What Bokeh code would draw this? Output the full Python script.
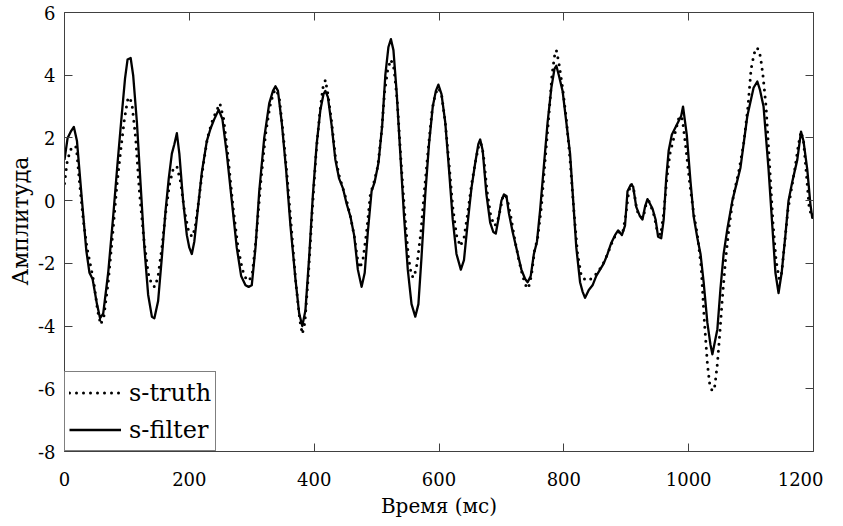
from bokeh.plotting import figure
from bokeh.models import LinearAxis, Range1d, Legend, LegendItem, FixedTicker, CustomJSTickFormatter, Title
from bokeh.embed import file_html
from bokeh.resources import INLINE

# ---- data ----
filter_x = [0, 5, 10, 15, 20, 28, 35, 40, 45, 52, 57, 62, 70, 78, 85, 92, 97, 101, 106, 110,
            116, 122, 128, 134, 140, 144, 150, 156, 162, 167, 172, 176, 180, 184, 190, 196, 200, 204, 208, 214,
            220, 228, 234, 240, 247, 253, 260, 268, 276, 283, 290, 295, 300, 306, 312, 320, 328, 334, 338, 342,
            348, 355, 362, 370, 376, 381, 386, 392, 398, 404, 410, 415, 418, 422, 428, 434, 440, 446, 452, 458,
            464, 470, 476, 481, 486, 492, 497, 503, 509, 514, 519, 523, 527, 532, 538, 544, 550, 556, 562, 567,
            572, 578, 584, 590, 595, 599, 604, 610, 616, 622, 628, 635, 640, 646, 652, 658, 663, 666, 670, 676,
            682, 687, 691, 696, 700, 704, 708, 712, 718, 725, 732, 738, 742, 747, 752, 757, 762, 768, 774, 780,
            785, 788, 792, 798, 804, 810, 815, 820, 826, 830, 834, 840, 846, 852, 858, 864, 870, 876, 882, 887,
            893, 898, 902, 907, 911, 916, 922, 926, 930, 934, 938, 942, 947, 951, 956, 960, 964, 968, 973, 978,
            983, 988, 991, 997, 1003, 1008, 1014, 1019, 1024, 1030, 1035, 1038, 1042, 1046, 1051, 1056, 1062, 1070, 1083, 1094,
            1104, 1110, 1114, 1120, 1128, 1134, 1139, 1144, 1149, 1155, 1160, 1166, 1174, 1180, 1184, 1190, 1195, 1198, 1200]
filter_y = [1.3, 2.0, 2.2, 2.35, 1.9, 0.0, -1.6, -2.3, -2.5, -3.3, -3.75, -3.6, -2.3, -0.5, 1.2, 2.8, 3.9, 4.5, 4.55, 4.0,
            2.5, 0.5, -1.5, -3.0, -3.7, -3.75, -3.2, -1.8, -0.3, 0.7, 1.5, 1.8, 2.15, 1.5, 0.0, -1.1, -1.5, -1.7, -1.3, -0.2,
            0.9, 1.9, 2.3, 2.6, 2.9, 2.6, 1.5, 0.0, -1.5, -2.4, -2.7, -2.75, -2.7, -1.5, 0.3, 2.0, 3.1, 3.5, 3.65, 3.5,
            2.5, 1.0, -0.8, -2.5, -3.6, -4.0, -3.5, -1.8, 0.2, 1.8, 2.9, 3.4, 3.5, 3.3, 2.4, 1.3, 0.7, 0.4, -0.1, -0.5,
            -1.1, -2.2, -2.75, -2.3, -1.0, 0.3, 0.6, 1.2, 2.4, 4.0, 4.9, 5.15, 4.8, 3.5, 1.5, -0.5, -2.2, -3.3, -3.7, -3.3,
            -1.8, 0.2, 1.8, 3.0, 3.5, 3.7, 3.4, 2.5, 1.0, -0.6, -1.7, -2.2, -1.9, -0.7, 0.4, 1.2, 1.8, 1.95, 1.6, 0.2,
            -0.7, -1.0, -1.05, -0.5, 0.0, 0.2, 0.15, -0.4, -1.0, -1.6, -2.2, -2.5, -2.6, -2.4, -1.7, -1.3, -0.3, 1.1, 2.5, 3.6,
            4.2, 4.3, 4.0, 3.5, 2.5, 1.5, 0.0, -1.5, -2.6, -2.9, -3.1, -2.85, -2.7, -2.4, -2.2, -2.0, -1.7, -1.35, -1.1, -0.95,
            -1.1, -0.8, 0.3, 0.5, 0.45, -0.2, -0.5, -0.6, -0.2, 0.05, -0.1, -0.25, -0.6, -1.15, -1.2, -0.6, 0.7, 1.6, 2.1, 2.3,
            2.5, 2.7, 3.0, 2.1, 0.6, -0.5, -1.2, -1.7, -2.6, -3.9, -4.6, -4.9, -4.5, -4.1, -2.8, -1.7, -0.9, 0.0, 1.05, 2.7,
            3.6, 3.8, 3.55, 3.0, 1.0, -0.8, -2.3, -2.95, -2.3, -1.1, 0.0, 0.6, 1.3, 2.2, 1.9, 1.0, -0.1, -0.55, -0.4]

truth_x = [0, 4, 9, 14, 19, 24, 30, 36, 42, 47, 53, 58, 63, 70, 77, 84, 90, 96, 101, 104,
           108, 114, 120, 127, 134, 140, 145, 150, 156, 162, 168, 174, 180, 186, 192, 198, 204, 209, 215, 222,
           229, 236, 242, 249, 255, 262, 270, 278, 285, 291, 296, 301, 307, 314, 322, 329, 335, 339, 344, 350,
           357, 364, 371, 377, 381, 385, 391, 397, 403, 409, 414, 418, 422, 428, 434, 440, 446, 452, 458, 464,
           469, 473, 478, 484, 490, 496, 502, 508, 513, 518, 523, 528, 533, 539, 545, 551, 556, 560, 565, 571,
           577, 583, 589, 594, 599, 604, 610, 616, 622, 628, 634, 640, 646, 652, 658, 663, 667, 671, 677, 683,
           689, 693, 698, 702, 706, 710, 715, 721, 728, 734, 739, 743, 748, 753, 758, 764, 770, 776, 781, 785,
           788, 792, 798, 804, 810, 816, 822, 828, 833, 838, 843, 848, 854, 860, 866, 872, 878, 884, 889, 894,
           899, 904, 908, 912, 917, 922, 927, 932, 936, 940, 945, 950, 955, 960, 965, 970, 975, 980, 985, 990,
           996, 1002, 1008, 1014, 1020, 1025, 1030, 1034, 1038, 1042, 1046, 1050, 1054, 1059, 1065, 1072, 1080, 1088, 1095, 1100,
           1105, 1110, 1115, 1119, 1124, 1130, 1135, 1140, 1145, 1149, 1154, 1159, 1164, 1170, 1176, 1180, 1184, 1188, 1193, 1197, 1200]
truth_y = [0.55, 1.2, 1.6, 1.75, 1.7, 0.6, -0.6, -1.5, -2.1, -2.6, -3.5, -3.95, -3.7, -2.6, -1.1, 0.5, 1.6, 2.6, 3.2, 3.3,
           3.1, 2.0, 0.3, -1.2, -2.3, -2.7, -2.75, -2.4, -1.5, -0.4, 0.5, 1.0, 1.1, 0.6, -0.3, -0.9, -1.15, -0.9, 0.0, 1.1,
           2.0, 2.5, 2.8, 3.1, 2.6, 1.4, -0.2, -1.5, -2.2, -2.5, -2.55, -2.3, -1.2, 0.5, 2.1, 3.0, 3.45, 3.55, 3.3, 2.2,
           0.7, -1.0, -2.7, -3.8, -4.25, -3.9, -2.3, -0.3, 1.5, 2.8, 3.6, 3.85, 3.4, 2.5, 1.4, 0.8, 0.4, 0.0, -0.5, -1.1,
           -1.8, -2.15, -1.9, -1.0, 0.2, 0.6, 1.1, 2.2, 3.5, 4.2, 4.5, 4.2, 3.2, 1.3, -0.4, -1.8, -2.4, -2.45, -2.0, -1.0,
           0.4, 1.7, 2.9, 3.4, 3.6, 3.4, 2.5, 1.2, -0.2, -1.1, -1.45, -1.2, -0.4, 0.5, 1.2, 1.7, 1.85, 1.5, 0.3, -0.5,
           -0.8, -0.7, -0.3, 0.1, 0.2, 0.0, -0.5, -1.2, -1.9, -2.4, -2.7, -2.8, -2.4, -1.6, -1.2, -0.2, 1.3, 2.7, 4.0, 4.6,
           4.8, 4.4, 3.6, 2.6, 1.3, -0.3, -1.7, -2.4, -2.5, -2.45, -2.5, -2.4, -2.3, -2.1, -1.9, -1.6, -1.3, -1.05, -1.0, -1.05,
           -0.5, 0.3, 0.55, 0.35, -0.3, -0.5, -0.55, -0.1, 0.0, -0.2, -0.5, -1.0, -1.1, -0.4, 0.7, 1.5, 1.9, 2.3, 2.7, 2.6,
           1.6, 0.5, -0.4, -1.1, -2.1, -3.8, -5.2, -5.9, -6.07, -5.9, -5.2, -4.2, -3.1, -1.9, -0.8, 0.2, 0.9, 1.8, 3.0, 4.2,
           4.7, 4.88, 4.6, 4.0, 3.0, 1.0, -0.7, -1.9, -2.5, -2.3, -1.3, -0.3, 0.3, 1.0, 1.8, 2.2, 1.9, 1.0, -0.2, -0.5, -0.45]

x_ticks = [0, 200, 400, 600, 800, 1000, 1200]
y_ticks = [-8, -6, -4, -2, 0, 2, 4, 6]
x_label = "Время (мс)"
y_label = "Амплитуда"
legend_labels = ["s-truth", "s-filter"]

FONT = "DejaVu Serif"
AXC = "#404040"

p = figure(frame_width=749, frame_height=439,
           x_range=Range1d(0, 1200), y_range=Range1d(-8, 6),
           output_backend="svg", toolbar_location=None,
           min_border_left=64, min_border_right=10, min_border_top=12, min_border_bottom=62)
p.xgrid.visible = False
p.ygrid.visible = False
p.outline_line_color = None
p.background_fill_color = "white"
p.border_fill_color = "white"

r_truth = p.line(truth_x, truth_y, line_color="black", line_width=3,
                 line_dash="0 7", line_cap="round")
r_filter = p.line(filter_x, filter_y, line_color="black", line_width=2.3, line_join="round")

def style_axis(ax, labels=True):
    ax.axis_line_color = AXC
    ax.axis_line_width = 1
    ax.major_tick_line_color = AXC
    ax.major_tick_in = 8
    ax.major_tick_out = 0
    ax.minor_tick_line_color = None
    ax.major_label_text_font = FONT
    ax.major_label_text_color = "black"
    ax.major_label_text_font_size = "18px"
    ax.axis_label_text_font = FONT
    ax.axis_label_text_font_style = "normal"
    ax.axis_label_text_color = "black"
    if labels:
        ax.formatter = CustomJSTickFormatter(code="return tick.toString();")
    else:
        ax.formatter = CustomJSTickFormatter(code="return '';")
        ax.major_label_standoff = 0

xa = p.xaxis[0]
ya = p.yaxis[0]
xa.ticker = FixedTicker(ticks=x_ticks)
ya.ticker = FixedTicker(ticks=y_ticks)
style_axis(xa)
style_axis(ya)
xa.major_label_standoff = 20
ya.major_label_standoff = 9
xa.axis_label = x_label
xa.axis_label_text_font_size = "20px"
xa.axis_label_standoff = 5

top = LinearAxis(ticker=FixedTicker(ticks=x_ticks))
right = LinearAxis(ticker=FixedTicker(ticks=y_ticks))
style_axis(top, labels=False)
style_axis(right, labels=False)
p.add_layout(top, "above")
p.add_layout(right, "right")

ytitle = Title(text=y_label, align="left", offset=166, standoff=4,
               text_font=FONT, text_font_size="22px", text_font_style="normal",
               text_color="black")
p.add_layout(ytitle, "left")

legend = Legend(items=[LegendItem(label=legend_labels[0], renderers=[r_truth]),
                       LegendItem(label=legend_labels[1], renderers=[r_filter])],
                location="bottom_left")
legend.margin = 0
legend.padding = 4
legend.spacing = 4
legend.border_line_color = "black"
legend.border_line_width = 1
legend.background_fill_color = "white"
legend.background_fill_alpha = 1
legend.label_text_font = FONT
legend.label_text_font_size = "24px"
legend.label_text_color = "black"
legend.glyph_width = 52
legend.glyph_height = 33
legend.label_height = 33
legend.label_standoff = 8
p.add_layout(legend)

open("out.html", "w").write(file_html(p, INLINE))
